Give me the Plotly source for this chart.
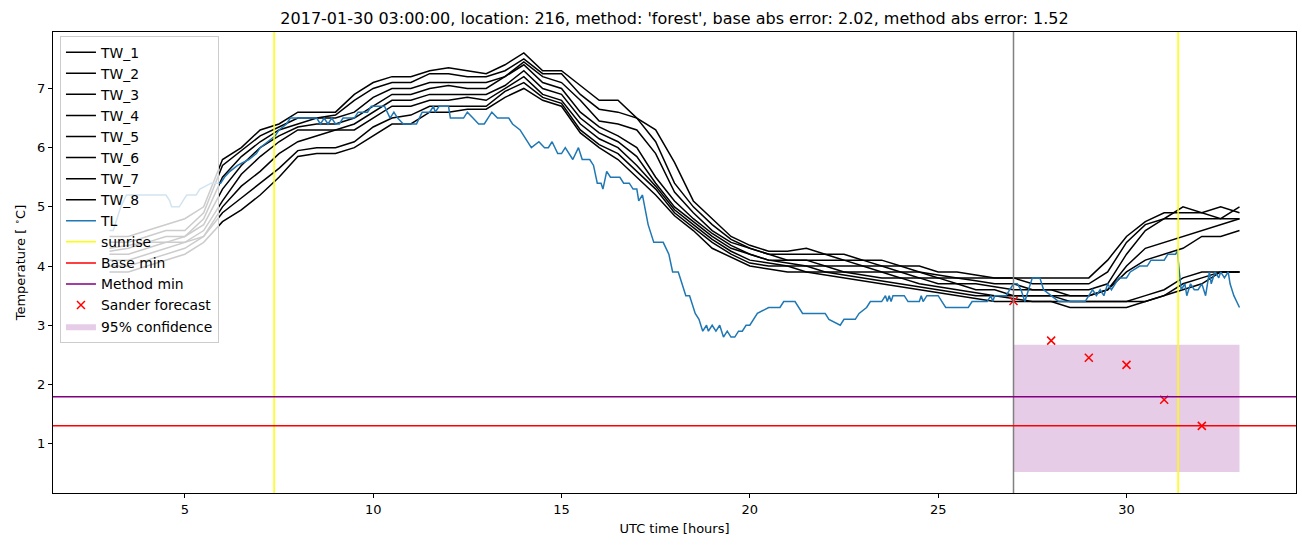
import plotly.graph_objects as go

# ---------------- data ----------------
hours = [3.0 + 0.5 * i for i in range(61)]

tw_1 = [4.5,4.5,4.6,4.7,4.8,5.0, 5.8,6.0,6.3,6.4,6.6,6.6, 6.6,6.9,7.1,7.2,7.2,7.3, 7.35,7.3,7.25,7.4,7.6,7.3,
        7.3,7.05,6.8,6.8,6.5,6.3, 5.75,5.1,4.8,4.5,4.35,4.25, 4.25,4.3,4.2,4.2,4.1,4.1, 4.0,4.0,3.9,3.9,3.85,3.8,
        3.8,3.8,3.8,3.8,3.8,4.1,4.5,4.75,4.9,4.9,4.9,5.0,4.9]
tw_2 = [4.4,4.4,4.5,4.6,4.6,4.9, 5.7,5.95,6.2,6.35,6.5,6.5, 6.55,6.8,7.0,7.1,7.1,7.25, 7.25,7.2,7.2,7.3,7.5,7.25,
        7.25,6.9,6.65,6.6,6.5,6.1, 5.4,5.0,4.7,4.45,4.3,4.2, 4.2,4.2,4.2,4.1,4.1,4.0, 4.0,3.9,3.85,3.8,3.8,3.8,
        3.8,3.7,3.7,3.7,3.7,3.9,4.4,4.7,4.8,5.0,4.9,4.8,5.0]
tw_3 = [4.3,4.35,4.4,4.5,4.5,4.8, 5.5,5.85,6.1,6.3,6.4,6.5, 6.5,6.6,6.85,7.0,7.0,7.1, 7.1,7.1,7.1,7.2,7.45,7.2,
        7.1,6.8,6.45,6.4,6.3,5.9, 5.25,4.9,4.6,4.4,4.3,4.2, 4.1,4.1,4.1,4.1,4.0,4.0, 3.9,3.9,3.8,3.8,3.75,3.7,
        3.7,3.6,3.6,3.6,3.6,3.7,4.2,4.6,4.8,4.8,4.8,4.8,4.8]
tw_4 = [4.25,4.3,4.4,4.4,4.5,4.7, 5.3,5.7,6.0,6.2,6.35,6.4, 6.4,6.5,6.7,6.9,6.9,7.0, 7.05,7.0,7.0,7.2,7.4,7.1,
        7.0,6.6,6.35,6.2,6.0,5.5, 5.1,4.8,4.55,4.35,4.2,4.1, 4.1,4.1,4.0,4.0,4.0,3.9, 3.9,3.8,3.8,3.7,3.7,3.65,
        3.6,3.6,3.6,3.5,3.5,3.6,4.0,4.3,4.4,4.5,4.6,4.7,4.8]
tw_5 = [4.2,4.2,4.3,4.4,4.4,4.6, 5.1,5.55,5.85,6.1,6.3,6.3, 6.3,6.4,6.6,6.8,6.8,6.9, 6.9,6.9,6.9,7.05,7.3,7.0,
        6.9,6.5,6.25,6.1,5.85,5.4, 5.0,4.75,4.5,4.3,4.2,4.1, 4.05,4.0,4.0,3.9,3.9,3.9, 3.8,3.8,3.7,3.7,3.6,3.6,
        3.5,3.5,3.5,3.5,3.5,3.6,3.9,4.1,4.2,4.3,4.5,4.5,4.6]
tw_6 = [4.1,4.1,4.2,4.3,4.4,4.5, 5.0,5.35,5.6,5.9,6.1,6.2, 6.3,6.3,6.5,6.7,6.7,6.8, 6.8,6.85,6.8,7.0,7.2,6.9,
        6.8,6.4,6.15,6.0,5.7,5.35, 4.95,4.7,4.45,4.25,4.1,4.05, 4.0,4.0,3.9,3.9,3.85,3.8, 3.8,3.7,3.65,3.6,3.55,3.5,
        3.5,3.5,3.5,3.4,3.4,3.4,3.4,3.5,3.6,3.8,3.9,3.9,3.9]
tw_7 = [4.0,4.0,4.1,4.2,4.3,4.5, 4.9,5.15,5.4,5.65,5.95,6.0, 6.0,6.1,6.35,6.5,6.55,6.7, 6.7,6.7,6.7,6.95,7.1,6.85,
        6.75,6.3,6.05,5.9,5.6,5.3, 4.9,4.65,4.4,4.2,4.05,4.0, 4.0,3.9,3.9,3.85,3.8,3.75, 3.7,3.65,3.6,3.55,3.5,3.5,
        3.45,3.4,3.4,3.4,3.4,3.4,3.4,3.4,3.5,3.7,3.8,3.9,3.9]
tw_8 = [3.9,3.9,4.0,4.1,4.2,4.4, 4.75,4.95,5.2,5.5,5.85,5.9, 5.9,6.0,6.2,6.4,6.4,6.6, 6.6,6.65,6.65,6.85,7.0,6.8,
        6.7,6.25,6.0,5.8,5.5,5.2, 4.85,4.6,4.3,4.15,4.0,3.95, 3.9,3.9,3.85,3.8,3.75,3.7, 3.65,3.6,3.55,3.5,3.45,3.4,
        3.4,3.4,3.4,3.3,3.3,3.3,3.3,3.4,3.5,3.6,3.7,3.9,3.9]

tl_hours = [3.0,3.1,3.3,3.45,4.5,4.6,4.65,4.85,4.95,5.05,5.3,5.4,5.7,5.95,6.05,6.2,6.4,6.7,6.9,7.0,
            7.2,7.4,7.5,7.7,7.8,8.5,8.6,8.7,8.8,8.9,9.0,9.1,9.2,9.5,9.6,9.85,9.95,10.3,10.45,10.55,
            10.65,10.8,11.15,11.3,11.5,11.6,11.65,11.75,12.0,12.05,12.4,12.5,12.65,12.8,12.95,13.05,13.15,13.3,13.6,13.7,
            13.9,14.0,14.2,14.4,14.55,14.65,14.75,14.9,15.0,15.1,15.3,15.45,15.55,15.75,15.85,15.95,16.05,16.1,16.2,16.3,
            16.55,16.65,16.8,16.9,17.0,17.05,17.15,17.3,17.45,17.7,17.85,17.95,18.1,18.2,18.3,18.4,18.55,18.65,18.75,18.85,
            18.9,19.0,19.1,19.2,19.3,19.4,19.5,19.6,19.7,19.8,19.9,20.0,20.1,20.2,20.5,20.8,20.9,21.2,21.4,22.0,
            22.1,22.4,22.5,22.8,22.9,23.1,23.2,23.5,23.6,23.65,23.7,23.75,23.8,24.1,24.2,24.5,24.55,24.6,24.7,25.0,
            25.1,25.2,25.8,25.9,26.3,26.4,26.45,26.5,26.8,26.9,27.0,27.1,27.2,27.3,27.4,27.5,27.7,27.8,28.0,28.2,
            28.6,28.9,29.0,29.1,29.2,29.3,29.4,29.5,29.6,29.8,30.0,30.1,30.35,30.55,30.65,31.0,31.1,31.3,31.35,31.45,
            31.55,31.6,31.7,31.8,31.9,32.0,32.1,32.2,32.25,32.35,32.45,32.5,32.6,32.7,32.75,32.85,33.0]
tl_values = [4.6,4.6,5.0,5.2,5.2,5.1,5.0,5.0,5.1,5.2,5.2,5.3,5.4,5.4,5.5,5.6,5.7,5.8,5.9,6.0,
             6.1,6.2,6.3,6.4,6.5,6.5,6.4,6.5,6.4,6.5,6.4,6.4,6.5,6.5,6.6,6.6,6.7,6.7,6.5,6.6,
             6.5,6.4,6.4,6.6,6.6,6.7,6.6,6.7,6.7,6.5,6.5,6.6,6.5,6.4,6.4,6.5,6.6,6.5,6.5,6.4,
             6.3,6.2,6.0,6.1,6.0,6.0,6.1,5.9,5.9,6.0,5.8,6.0,5.8,5.8,5.7,5.4,5.4,5.3,5.6,5.5,
             5.5,5.4,5.4,5.3,5.3,5.1,5.2,4.7,4.4,4.4,4.2,3.9,3.9,3.7,3.5,3.5,3.2,3.1,2.9,3.0,
             2.9,3.0,2.9,3.0,2.8,2.9,2.8,2.8,2.9,2.9,3.0,3.0,3.1,3.2,3.3,3.3,3.4,3.4,3.2,3.2,
             3.1,3.0,3.1,3.1,3.2,3.3,3.4,3.4,3.5,3.4,3.5,3.4,3.5,3.5,3.4,3.4,3.5,3.4,3.5,3.5,
             3.4,3.3,3.3,3.4,3.4,3.5,3.4,3.5,3.5,3.6,3.7,3.7,3.6,3.4,3.6,3.8,3.8,3.6,3.5,3.4,
             3.4,3.4,3.5,3.6,3.5,3.6,3.5,3.7,3.6,3.8,3.8,3.9,4.0,4.0,4.1,4.1,4.2,4.2,4.25,3.6,
             3.7,3.5,3.7,3.6,3.6,3.7,3.5,3.9,3.7,3.9,3.8,3.9,3.8,3.9,3.7,3.5,3.3]

sunrise_hours = [7.37, 31.37]
forecast_start = 27
base_min = 1.30
method_min = 1.79

sander_hours = [27, 28, 29, 30, 31, 32]
sander_values = [3.41, 2.74, 2.45, 2.33, 1.74, 1.30]

conf_hours = [27, 33]
conf_lower = [0.52, 0.52]
conf_upper = [2.67, 2.67]

title_text = "2017-01-30 03:00:00, location: 216, method: 'forest', base abs error: 2.02, method abs error: 1.52"

# ---------------- figure ----------------
fig = go.Figure()

# confidence band (drawn first = lowest, legend last)
fig.add_trace(go.Scatter(
    x=conf_hours + conf_hours[::-1], y=conf_upper + conf_lower[::-1],
    fill="toself", fillcolor="rgba(128,0,128,0.2)", line=dict(width=0),
    mode="lines", name="95% confidence", legendrank=2000, hoverinfo="skip"))

for i, tw in enumerate([tw_1, tw_2, tw_3, tw_4, tw_5, tw_6, tw_7, tw_8], start=1):
    fig.add_trace(go.Scatter(x=hours, y=tw, mode="lines", name=f"TW_{i}",
                             line=dict(color="black", width=1.5), legendrank=1000 + i))

fig.add_trace(go.Scatter(x=tl_hours, y=tl_values, mode="lines", name="TL",
                         line=dict(color="#1f77b4", width=1.5), legendrank=1010))

# legend-only entries for reference lines
fig.add_trace(go.Scatter(x=[None], y=[None], mode="lines", name="sunrise",
                         line=dict(color="yellow", width=1.5), legendrank=1011))
fig.add_trace(go.Scatter(x=[None], y=[None], mode="lines", name="Base min",
                         line=dict(color="red", width=1.5), legendrank=1012))
fig.add_trace(go.Scatter(x=[None], y=[None], mode="lines", name="Method min",
                         line=dict(color="purple", width=1.5), legendrank=1013))

fig.add_trace(go.Scatter(x=sander_hours, y=sander_values, mode="markers", name="Sander forecast",
                         marker=dict(symbol="x-thin", size=8, color="red",
                                     line=dict(color="red", width=1.5)),
                         legendrank=1014))

shapes = []
for s in sunrise_hours:
    shapes.append(dict(type="line", xref="x", yref="paper", x0=s, x1=s, y0=0, y1=1,
                       line=dict(color="yellow", width=1.5), layer="above"))
shapes.append(dict(type="line", xref="x", yref="paper", x0=forecast_start, x1=forecast_start, y0=0, y1=1,
                   line=dict(color="gray", width=1.5), layer="above"))
shapes.append(dict(type="line", xref="paper", yref="y", x0=0, x1=1, y0=base_min, y1=base_min,
                   line=dict(color="red", width=1.5), layer="above"))
shapes.append(dict(type="line", xref="paper", yref="y", x0=0, x1=1, y0=method_min, y1=method_min,
                   line=dict(color="purple", width=1.5), layer="above"))

axis_common = dict(showline=True, linecolor="black", linewidth=1, mirror=True,
                   ticks="outside", ticklen=4, tickcolor="black", showgrid=False, zeroline=False,
                   tickfont=dict(size=13))

fig.update_layout(
    width=1302, height=547,
    margin=dict(l=53, r=6, t=32, b=54),
    plot_bgcolor="white", paper_bgcolor="white",
    font=dict(family="DejaVu Sans", size=13, color="black"),
    title=dict(text=title_text, x=0.5, xref="paper", xanchor="center",
               y=1 - 18 / 547, yref="container", yanchor="middle", font=dict(size=16)),
    shapes=shapes,
    showlegend=True,
    legend=dict(x=0.0056, y=0.992, xanchor="left", yanchor="top",
                bgcolor="rgba(255,255,255,0.8)", bordercolor="#cccccc", borderwidth=1,
                font=dict(size=13.9), traceorder="normal"),
)
fig.update_xaxes(range=[1.5, 34.5], tickvals=[5, 10, 15, 20, 25, 30],
                 title=dict(text="UTC time [hours]", font=dict(size=13), standoff=8), **axis_common)
fig.update_yaxes(range=[0.166, 7.954], tickvals=[1, 2, 3, 4, 5, 6, 7],
                 title=dict(text="Temperature [ <sup>∘</sup>C]", font=dict(size=13), standoff=8), **axis_common)

fig.write_html("out.html")
